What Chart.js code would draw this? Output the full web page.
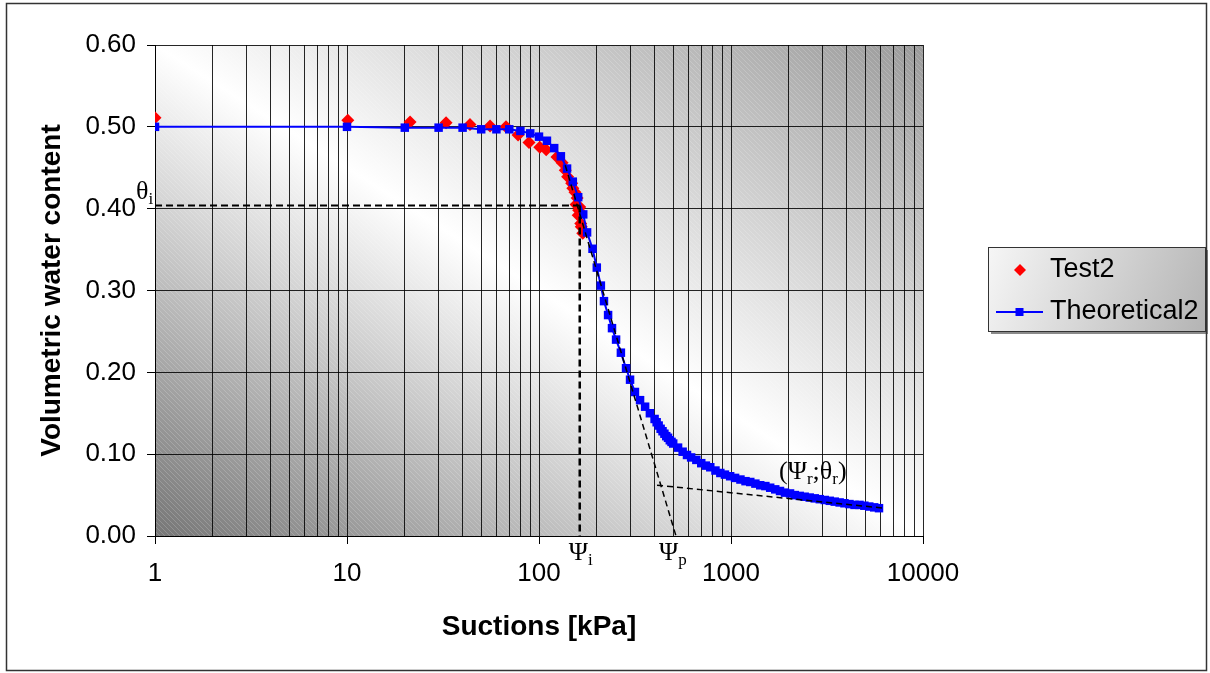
<!DOCTYPE html>
<html>
<head>
<meta charset="utf-8">
<script src="https://cdn.jsdelivr.net/npm/chart.js@4.4.0/dist/chart.umd.min.js"></script>
<style>
  body { margin: 0; background: #fff; }
</style>
</head>
<body>
<canvas id="swcc" width="1210" height="673"></canvas>
<script>
// measured points (Test2)
const testSuction = [1, 10.1, 21.3, 32.8, 43.7, 55.6, 67.3, 77.8, 88.7, 101, 109, 124, 132, 137, 141, 148, 150, 154, 156, 158, 163, 161, 160, 165, 166, 169];
const testWater = [0.511, 0.508, 0.506, 0.505, 0.503, 0.501, 0.500, 0.490, 0.481, 0.475, 0.472, 0.463, 0.456, 0.447, 0.439, 0.431, 0.425, 0.420, 0.405, 0.413, 0.402, 0.398, 0.392, 0.382, 0.378, 0.370];

// fitted curve (Theoretical2)
const theoSuction = [1, 10, 20, 30, 40, 50, 60, 70, 80, 90,
    100, 110, 120, 130, 140, 150, 160, 170, 178, 190,
    200, 210, 218, 229, 240, 252, 267, 284, 298, 316,
    336, 357, 378, 400, 410, 420, 430, 440, 450, 460,
    470, 480, 490, 500, 530, 560, 590, 620, 660, 700,
    740, 780, 830, 880, 930, 990, 1050, 1120, 1190, 1260,
    1340, 1420, 1510, 1600, 1700, 1800, 1910, 2030, 2150, 2280,
    2420, 2570, 2730, 2900, 3080, 3270, 3470, 3680, 3900, 4140,
    4400, 4670, 4950, 5250, 5570, 5900];
const theoWater = [0.500, 0.500, 0.499, 0.499, 0.499, 0.497, 0.497, 0.497, 0.495, 0.492,
    0.488, 0.483, 0.474, 0.464, 0.449, 0.433, 0.414, 0.393, 0.371, 0.351,
    0.328, 0.306, 0.287, 0.270, 0.254, 0.240, 0.224, 0.205, 0.191, 0.176,
    0.166, 0.158, 0.150, 0.143, 0.139, 0.135, 0.131, 0.128, 0.125, 0.122,
    0.120, 0.117, 0.115, 0.113, 0.108, 0.103, 0.099, 0.096, 0.093, 0.089,
    0.086, 0.084, 0.080, 0.077, 0.075, 0.073, 0.071, 0.069, 0.067, 0.066,
    0.064, 0.062, 0.061, 0.059, 0.057, 0.055, 0.053, 0.052, 0.050, 0.049,
    0.048, 0.047, 0.046, 0.045, 0.044, 0.043, 0.042, 0.041, 0.040, 0.039,
    0.038, 0.038, 0.037, 0.036, 0.035, 0.034];

// construction lines
const thetaI = 0.404;
const psiI = 163;
const tangentSuction = [137, 517];
const tangentWater = [0.453, 0];
const residualSuction = [412, 6300];
const residualWater = [0.062, 0.034];
const residualLabel = [1780, 0.071];

// axes
const xMajorTicks = [1, 10, 100, 1000, 10000];
const xTickValues = [];
xMajorTicks.forEach(function(d, i) {
    if (i === xMajorTicks.length - 1) { xTickValues.push(d); return; }
    for (let k = 1; k <= 9; k++) xTickValues.push(d * k);
});
const yTickStep = 0.1;

function toPoints(xs, ys) {
    return xs.map((x, i) => ({ x: x, y: ys[i] }));
}

const SANS = '"Liberation Sans", Arial, sans-serif';
const SERIF = '"Liberation Serif", "Times New Roman", serif';
Chart.defaults.font.family = SANS;
Chart.defaults.color = '#000';

const dashed = {
    type: 'line', showLine: true, borderColor: '#000', pointRadius: 0,
    fill: false, tension: 0, order: 0
};

// plot background + texts, legend and frame
const decorations = {
    id: 'decorations',
    beforeDraw(chart) {
        const { ctx, chartArea: a } = chart;
        const cx = (a.left + a.right) / 2, cy = (a.top + a.bottom) / 2;
        const w = a.right - a.left, h = a.bottom - a.top;
        const n = Math.hypot(w, h);
        const dx = h / n, dy = -w / n;
        const half = Math.abs((a.left - cx) * dx + (a.bottom - cy) * dy);
        const g = ctx.createLinearGradient(cx - half * dx, cy - half * dy, cx + half * dx, cy + half * dy);
        g.addColorStop(0, '#767676');
        g.addColorStop(0.5, '#ffffff');
        g.addColorStop(1, '#9a9a9a');
        ctx.save();
        ctx.fillStyle = g;
        ctx.fillRect(a.left, a.top, w, h);
        // faint diagonal texture
        ctx.beginPath();
        ctx.rect(a.left, a.top, w, h);
        ctx.clip();
        ctx.strokeStyle = 'rgba(255,255,255,0.18)';
        ctx.lineWidth = 1;
        for (let s = -h; s < w; s += 5) {
            ctx.beginPath();
            ctx.moveTo(a.left + s, a.top);
            ctx.lineTo(a.left + s + h, a.bottom);
            ctx.stroke();
        }
        ctx.restore();
    },
    afterDraw(chart) {
        const { ctx } = chart;
        const xs = chart.scales.x, ys = chart.scales.y;
        ctx.save();
        ctx.fillStyle = '#000';
        ctx.textBaseline = 'alphabetic';

        function symbolText(parts, x, y) {
            parts.forEach(function(p) {
                ctx.font = (p.sub ? '17px ' : '26px ') + SERIF;
                ctx.fillText(p.t, x, y + (p.sub ? 5 : 0));
                x += ctx.measureText(p.t).width;
            });
        }

        symbolText([{ t: 'θ' }, { t: 'i', sub: true }], xs.getPixelForValue(1) - 19, ys.getPixelForValue(thetaI) - 6);
        symbolText([{ t: 'Ψ' }, { t: 'i', sub: true }], xs.getPixelForValue(psiI) - 11, 560);
        symbolText([{ t: 'Ψ' }, { t: 'p', sub: true }], xs.getPixelForValue(tangentSuction[1]) - 17, 560);
        symbolText([{ t: '(' }, { t: 'Ψ' }, { t: 'r', sub: true }, { t: ';' }, { t: 'θ' }, { t: 'r', sub: true }, { t: ')' }],
            xs.getPixelForValue(residualLabel[0]), ys.getPixelForValue(residualLabel[1]) + 1);

        // legend
        const L = 988, T = 247, W = 217, H = 84;
        ctx.fillStyle = '#8a8a8a';
        ctx.fillRect(L + 3, T + 3, W, H);
        const lg = ctx.createLinearGradient(L, T, L + W, T + H);
        lg.addColorStop(0, '#f6f6f6');
        lg.addColorStop(1, '#b4b4b4');
        ctx.fillStyle = lg;
        ctx.fillRect(L, T, W, H);
        ctx.strokeStyle = '#333';
        ctx.lineWidth = 1;
        ctx.strokeRect(L + 0.5, T + 0.5, W, H);

        ctx.fillStyle = '#ff0000';
        ctx.beginPath();
        ctx.moveTo(1020, 264); ctx.lineTo(1026, 270); ctx.lineTo(1020, 276); ctx.lineTo(1014, 270);
        ctx.closePath();
        ctx.fill();
        ctx.strokeStyle = '#0000ff';
        ctx.lineWidth = 2;
        ctx.beginPath();
        ctx.moveTo(996, 312); ctx.lineTo(1043, 312);
        ctx.stroke();
        ctx.fillStyle = '#0000ff';
        ctx.fillRect(1015.5, 308, 8, 8);

        ctx.fillStyle = '#000';
        ctx.font = '27px ' + SANS;
        ctx.textBaseline = 'middle';
        ctx.fillText('Test2', 1050, 270);
        ctx.fillText('Theoretical2', 1050, 312);

        // outer frame
        ctx.strokeStyle = '#333';
        ctx.lineWidth = 1.5;
        ctx.strokeRect(6.5, 3.5, 1200, 667);
        ctx.restore();
    }
};

const new_chart = new Chart(document.getElementById('swcc').getContext('2d'), {
    type: 'scatter',
    data: {
        datasets: [
            Object.assign({}, dashed, {
                data: toPoints([1, psiI], [thetaI, thetaI]),
                borderWidth: 2, borderDash: [7, 4]
            }),
            Object.assign({}, dashed, {
                data: toPoints([psiI, psiI], [thetaI, 0]),
                borderWidth: 2.5, borderDash: [7, 4]
            }),
            Object.assign({}, dashed, {
                data: toPoints(tangentSuction, tangentWater),
                borderWidth: 1.5, borderDash: [6, 4]
            }),
            Object.assign({}, dashed, {
                data: toPoints(residualSuction, residualWater),
                borderWidth: 1.5, borderDash: [6, 4]
            }),
            {
                label: 'Theoretical2',
                data: toPoints(theoSuction, theoWater),
                showLine: true,
                borderColor: '#0000ff',
                borderWidth: 2,
                backgroundColor: '#0000ff',
                pointStyle: 'rect',
                pointRadius: 6,
                pointBorderWidth: 0,
                tension: 0,
                order: 1
            },
            {
                label: 'Test2',
                data: toPoints(testSuction, testWater),
                showLine: false,
                backgroundColor: '#ff0000',
                borderColor: '#ff0000',
                pointStyle: 'rectRot',
                pointRadius: 6.5,
                pointBorderWidth: 0,
                order: 2
            }
        ]
    },
    options: {
        responsive: false,
        animation: false,
        devicePixelRatio: 1,
        layout: { padding: { top: 45, right: 287, left: 0, bottom: 0 } },
        plugins: {
            legend: { display: false },
            tooltip: { enabled: false }
        },
        scales: {
            x: {
                type: 'logarithmic',
                min: 1,
                max: 10000,
                afterBuildTicks: function(scale) {
                    scale.ticks = xTickValues.map(v => ({ value: v, major: xMajorTicks.includes(v) }));
                },
                afterFit: function(scale) { scale.height = 137; },
                ticks: {
                    autoSkip: false,
                    maxRotation: 0,
                    padding: 14,
                    font: { size: 26 },
                    color: '#000',
                    callback: function(value) {
                        return xMajorTicks.includes(value) ? String(value) : '';
                    }
                },
                grid: {
                    color: 'rgba(0,0,0,0.85)',
                    lineWidth: 1,
                    tickLength: 8,
                    tickColor: function(c) {
                        return c.tick && xMajorTicks.includes(c.tick.value) ? '#000' : 'rgba(0,0,0,0)';
                    }
                },
                border: { color: '#000', width: 1 },
                title: {
                    display: true,
                    text: 'Suctions [kPa]',
                    font: { size: 28, weight: 'bold' },
                    color: '#000',
                    padding: { top: 0, bottom: 29 }
                }
            },
            y: {
                min: 0,
                max: 0.6,
                afterFit: function(scale) { scale.width = 155; },
                ticks: {
                    stepSize: yTickStep,
                    padding: 11,
                    font: { size: 26 },
                    color: '#000',
                    callback: function(value) { return value.toFixed(2); }
                },
                grid: {
                    color: 'rgba(0,0,0,0.85)',
                    lineWidth: 1,
                    tickLength: 8,
                    tickColor: '#000'
                },
                border: { color: '#000', width: 1 },
                title: {
                    display: true,
                    text: 'Volumetric water content',
                    font: { size: 28, weight: 'bold' },
                    color: '#000',
                    padding: { top: 35, bottom: 0 }
                }
            }
        }
    },
    plugins: [decorations]
});
</script>
</body>
</html>
